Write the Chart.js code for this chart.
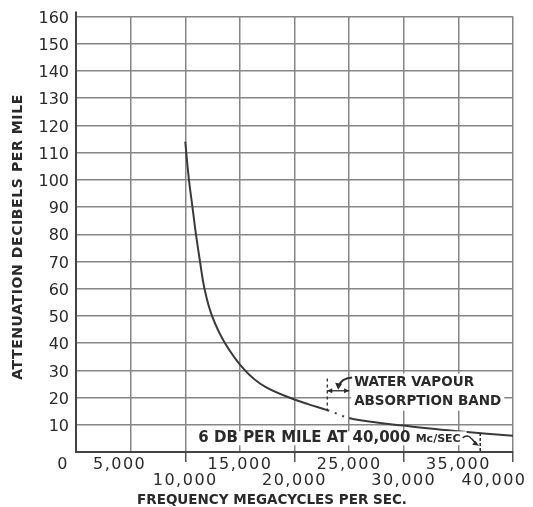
<!DOCTYPE html>
<html>
<head>
<meta charset="utf-8">
<script src="https://cdn.jsdelivr.net/npm/chart.js@4.4.1/dist/chart.umd.min.js"></script>
<style>
  html, body { margin: 0; padding: 0; background: #fff; }
  #wrap { width: 533px; height: 507px; }
</style>
</head>
<body>
<div id="wrap"><canvas id="c" width="533" height="507"></canvas></div>
<script>
// Attenuation of the guide versus frequency (Mc/sec -> dB per mile)
const frequency = [10000, 10340, 10660, 10980, 11350, 11760, 12450, 13640, 15470, 17300,
                   20000, 21300, 23000, 25000, 27200, 30000, 32400, 35000, 37600, 40000];
const attenuation = [114, 100, 90, 80, 70, 60, 50, 40, 30, 24,
                     19.3, 17.5, 15.4, 12.5, 11, 9.7, 8.6, 7.6, 6.7, 6];

// Water vapour absorption band (Mc/sec)
const bandStart = 23000;
const bandEnd = 25000;

// Axis ticks
const xTickValues = [0, 5000, 10000, 15000, 20000, 25000, 30000, 35000, 40000];
const xTickLabels = ['0', '5,000', '10,000', '15,000', '20,000', '25,000', '30,000', '35,000', '40,000'];
const yTickValues = [0, 10, 20, 30, 40, 50, 60, 70, 80, 90, 100, 110, 120, 130, 140, 150, 160];

// Texts
const xTitle = 'FREQUENCY MEGACYCLES PER SEC.';
const yTitle = 'ATTENUATION DECIBELS PER MILE';
const bandLabel = ['WATER VAPOUR', 'ABSORPTION BAND'];
const endNoteMain = '6 DB PER MILE AT 40,000 ';
const endNoteUnit = 'Mc/SEC';

const INK = '#2a2a2a';
const GRID = '#858585';

const points = frequency.map((f, i) => ({ x: f, y: attenuation[i] }));

// Staggered two-row tick labels under the x axis
const xLabelStyle = {
  rowY: [465, 481],
  shift: { 0: -13, 5000: -11, 40000: -19 }
};

const decorations = {
  id: 'decorations',
  afterDraw(chart) {
    const { ctx, scales: { x, y }, chartArea } = chart;
    ctx.save();

    // axis stub above the top grid line
    ctx.strokeStyle = '#444';
    ctx.lineWidth = 2;
    ctx.beginPath();
    ctx.moveTo(chartArea.left, chartArea.top);
    ctx.lineTo(chartArea.left, chartArea.top - 5);
    ctx.stroke();

    // x tick labels, alternating rows
    ctx.fillStyle = INK;
    ctx.font = '16px "DejaVu Sans"';
    ctx.letterSpacing = '1.5px';
    ctx.textAlign = 'center';
    ctx.textBaseline = 'middle';
    xTickValues.forEach((v, i) => {
      const row = (v > 0 && v % 10000 === 0) ? 1 : 0;
      const px = x.getPixelForValue(v) + (xLabelStyle.shift[v] || 0);
      ctx.fillText(xTickLabels[i], px, xLabelStyle.rowY[row]);
    });

    // axis titles
    ctx.letterSpacing = '0px';
    ctx.font = 'bold 13.5px "DejaVu Sans"';
    ctx.fillText(xTitle, 272, 500);
    ctx.save();
    ctx.translate(18, 237);
    ctx.rotate(-Math.PI / 2);
    ctx.font = 'bold 14px "DejaVu Sans"';
    ctx.letterSpacing = '0.6px';
    ctx.fillText(yTitle, 0, 0);
    ctx.restore();
    ctx.letterSpacing = '0px';

    // water vapour band label
    const xs = x.getPixelForValue(bandStart);
    const xe = x.getPixelForValue(bandEnd);
    ctx.font = 'bold 13.5px "DejaVu Sans"';
    ctx.textAlign = 'left';
    const tx = xe + 3;
    const w = Math.max(ctx.measureText(bandLabel[0]).width, ctx.measureText(bandLabel[1]).width);
    const t1 = y.getPixelForValue(25.5), t2 = y.getPixelForValue(18.5);
    ctx.fillStyle = '#fff';
    ctx.fillRect(tx - 1, t1 - 9, w + 6, t2 - t1 + 18);
    ctx.fillStyle = INK;
    ctx.fillText(bandLabel[0], tx + 2, t1);
    ctx.fillText(bandLabel[1], tx + 2, t2);

    // band limits and span arrow
    ctx.strokeStyle = INK;
    ctx.lineWidth = 1.3;
    ctx.setLineDash([3, 3]);
    ctx.beginPath();
    ctx.moveTo(xs, y.getPixelForValue(27));
    ctx.lineTo(xs, y.getPixelForValue(15));
    ctx.stroke();
    ctx.setLineDash([]);
    const ay = y.getPixelForValue(22.5);
    ctx.beginPath();
    ctx.moveTo(xs, ay);
    ctx.lineTo(xe, ay);
    ctx.stroke();
    const head = (px, py, dir) => {
      ctx.beginPath();
      ctx.moveTo(px, py);
      ctx.lineTo(px - dir * 5, py - 2.5);
      ctx.lineTo(px - dir * 5, py + 2.5);
      ctx.closePath();
      ctx.fill();
    };
    ctx.fillStyle = INK;
    head(xs, ay, -1);
    head(xe, ay, 1);

    // curved pointer from the label to the band
    ctx.lineWidth = 2;
    ctx.beginPath();
    ctx.moveTo(tx, t1 - 5);
    ctx.quadraticCurveTo(xe - 8, t1 - 4, xe - 10, ay - 5);
    ctx.stroke();
    ctx.beginPath();
    ctx.moveTo(xe - 11, ay - 1);
    ctx.lineTo(xe - 14, ay - 8);
    ctx.lineTo(xe - 7, ay - 7);
    ctx.closePath();
    ctx.fill();

    // note on the value at the end of the curve
    const nx = x.getPixelForValue(11200);
    const ny = y.getPixelForValue(5.2);
    ctx.font = 'bold 15px "DejaVu Sans"';
    const wMain = ctx.measureText(endNoteMain).width;
    ctx.font = 'bold 11px "DejaVu Sans"';
    const wUnit = ctx.measureText(endNoteUnit).width;
    ctx.fillStyle = '#fff';
    ctx.fillRect(nx - 4, ny - 6.5, wMain + wUnit + 10, 14);
    ctx.fillStyle = INK;
    ctx.font = 'bold 15px "DejaVu Sans"';
    ctx.fillText(endNoteMain, nx, ny);
    ctx.font = 'bold 11px "DejaVu Sans"';
    ctx.fillText(endNoteUnit, nx + wMain, ny + 1);

    const ex = x.getPixelForValue(37000);
    const sx = nx + wMain + wUnit + 2;
    ctx.lineWidth = 1.5;
    ctx.beginPath();
    ctx.moveTo(sx, ny);
    ctx.quadraticCurveTo(sx + 5, ny - 4, sx + 9, ny + 1);
    ctx.lineTo(ex - 4, ny + 6);
    ctx.stroke();
    ctx.beginPath();
    ctx.moveTo(ex - 1, ny + 8);
    ctx.lineTo(ex - 8, ny + 7);
    ctx.lineTo(ex - 5, ny + 3);
    ctx.closePath();
    ctx.fill();
    ctx.setLineDash([3, 2]);
    ctx.beginPath();
    ctx.moveTo(ex, y.getPixelForValue(7));
    ctx.lineTo(ex, y.getPixelForValue(0));
    ctx.stroke();
    ctx.setLineDash([]);

    ctx.restore();
  }
};

new Chart(document.getElementById('c'), {
  type: 'line',
  data: {
    datasets: [{
      data: points,
      borderColor: '#3a3a3a',
      borderWidth: 2,
      pointRadius: 0,
      fill: false,
      tension: 0.4,
      segment: {
        borderDash: s => (s.p0.parsed.x >= bandStart && s.p1.parsed.x <= bandEnd) ? [2, 6] : undefined
      }
    }]
  },
  options: {
    responsive: false,
    animation: false,
    devicePixelRatio: 1,
    layout: { padding: { left: 0, right: 20, top: 13, bottom: 0 } },
    plugins: { legend: { display: false }, tooltip: { enabled: false } },
    scales: {
      x: {
        type: 'linear',
        min: 0,
        max: 40000,
        afterBuildTicks: s => { s.ticks = xTickValues.map(v => ({ value: v })); },
        ticks: { display: false },
        grid: {
          color: GRID,
          lineWidth: 1.5,
          drawTicks: true,
          tickLength: 10,
          tickColor: c => (c.tick && c.tick.value > 0 && c.tick.value % 10000 === 0) ? '#555' : 'rgba(0,0,0,0)',
          tickWidth: 1.5
        },
        border: { display: true, color: '#444', width: 2 },
        afterFit: s => { s.height = 55; }
      },
      y: {
        min: 0,
        max: 160,
        afterBuildTicks: s => { s.ticks = yTickValues.map(v => ({ value: v })); },
        ticks: {
          callback: v => (v === 0 ? '' : String(v)),
          color: INK,
          font: { family: '"DejaVu Sans"', size: 16 },
          padding: 7,
          labelOffset: 2
        },
        grid: { color: GRID, lineWidth: 1.5, drawTicks: false },
        border: { display: true, color: '#444', width: 2 },
        afterFit: s => { s.width = 76; }
      }
    }
  },
  plugins: [decorations]
});
</script>
</body>
</html>
